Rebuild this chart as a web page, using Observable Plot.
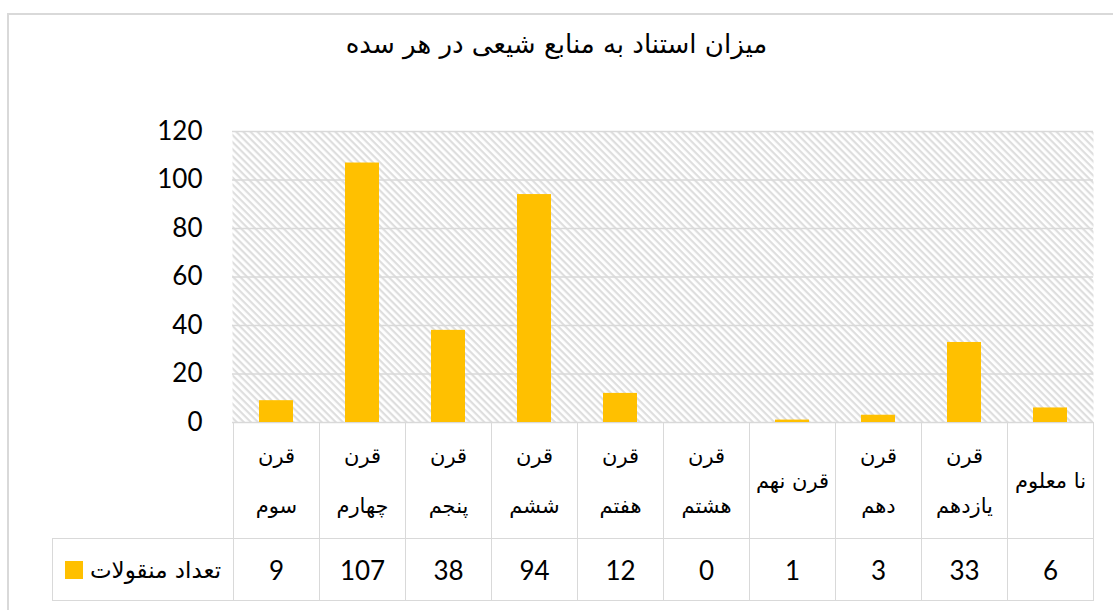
<!DOCTYPE html>
<html><head><meta charset="utf-8">
<script src="https://cdn.jsdelivr.net/npm/d3@7"></script>
<script src="https://cdn.jsdelivr.net/npm/@observablehq/plot@0.6"></script>
<style>
html,body{margin:0;padding:0;background:#fff;}
#wrap{position:relative;width:1113px;height:610px;overflow:hidden;}
#frame{position:absolute;left:7px;top:13px;width:1120px;height:620px;border-top:2px solid #d9d9d9;border-left:2px solid #d9d9d9;}
#title{position:absolute;left:0;top:29px;width:1113px;text-align:center;font-family:"DejaVu Sans",sans-serif;font-size:26px;color:#000;direction:rtl;}
#wrap svg{position:absolute;left:0;top:0;}
.cell{position:absolute;box-sizing:border-box;border:1px solid #d9d9d9;display:flex;align-items:center;justify-content:center;text-align:center;}
.lab{font-family:"DejaVu Sans",sans-serif;font-size:21px;line-height:50px;white-space:pre-line;direction:rtl;color:#000;}
.num{font-family:Lato,"Open Sans",sans-serif;font-size:26px;color:#000;}
.key{display:inline-block;width:18px;height:18px;background:#FFC000;margin-right:7px;vertical-align:-1px;}
.ser{font-family:"DejaVu Sans",sans-serif;font-size:23px;direction:rtl;}
</style></head><body>
<div id="wrap"><div id="frame"></div></div>
<script>
const title = "میزان استناد به منابع شیعی در هر سده";
const seriesName = "تعداد منقولات";
const categories = ["قرن\nسوم","قرن\nچهارم","قرن\nپنجم","قرن\nششم","قرن\nهفتم","قرن\nهشتم","قرن نهم","قرن\nدهم","قرن\nیازدهم","نا معلوم"];
const values = [9,107,38,94,12,0,1,3,33,6];
const yTicks = [0,20,40,60,80,100,120];
const barColor = "#FFC000";

const data = categories.map((c,i)=>({cat:c, value:values[i]}));

const defs = () => {
  const d = d3.create("svg:defs");
  const p = d.append("pattern").attr("id","hatch").attr("patternUnits","userSpaceOnUse")
    .attr("width",5).attr("height",5).attr("patternTransform","rotate(45)");
  p.append("rect").attr("width",5).attr("height",5).attr("fill","#fff");
  p.append("rect").attr("width",5).attr("height",2.2).attr("fill","#dedede");
  return d.node();
};

const plot = Plot.plot({
  width:1113, height:610,
  marginTop:131, marginBottom:188, marginLeft:232, marginRight:20,
  x:{domain:categories, padding:0, axis:null},
  y:{domain:[0,120], ticks:yTicks, tickSize:0, tickPadding:30, label:null},
  style:{fontFamily:"Lato, 'Open Sans', sans-serif", fontSize:"26px", color:"#000", background:"transparent", overflow:"visible"},
  marks:[
    defs,
    Plot.frame({fill:"url(#hatch)", stroke:null}),
    Plot.ruleY(yTicks, {stroke:"#d9d9d9", strokeWidth:1.6}),
    Plot.barY(data, {x:"cat", y:"value", fill:barColor, insetLeft:26, insetRight:26}),
    Plot.axisY(yTicks, {tickSize:0, tickPadding:30, fontSize:26, label:null})
  ]
});
const wrap = document.getElementById("wrap");
wrap.appendChild(plot);

const t = document.createElement("div");
t.id = "title"; t.textContent = title; wrap.appendChild(t);

// data table below the chart, columns aligned to the x scale
const xs = plot.scale("x");
const ys = plot.scale("y");
const bw = xs.bandwidth;
const top0 = Math.round(ys.apply(0));
const rowSep = 538, bottom = 600, legendLeft = 52;
function addCell(x, y, w, h, html){
  const c = document.createElement("div");
  c.className = "cell";
  c.style.left = x+"px"; c.style.top = y+"px"; c.style.width = (w+1)+"px"; c.style.height = (h+1)+"px";
  c.innerHTML = html;
  wrap.appendChild(c);
  return c;
}
data.forEach(d=>{
  const x = xs.apply(d.cat);
  const c = addCell(x, top0, bw, rowSep-top0, "");
  const s1 = document.createElement("span"); s1.className="lab"; s1.textContent=d.cat;
  c.appendChild(s1);
  addCell(x, rowSep, bw, bottom-rowSep, `<span class="num">${d.value}</span>`);
});
const x0 = xs.apply(categories[0]);
addCell(legendLeft, rowSep, x0-legendLeft, bottom-rowSep, `<span><span class="key"></span><span class="ser">${seriesName}</span></span>`);
</script>
</body></html>
